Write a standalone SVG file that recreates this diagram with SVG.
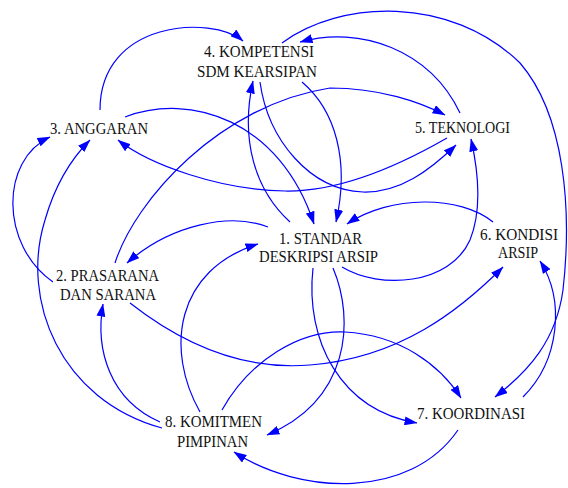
<svg xmlns="http://www.w3.org/2000/svg" width="568" height="488" viewBox="0 0 568 488">
<style>
.e{fill:none;stroke:#0000ff;stroke-width:1.2;marker-end:url(#ah)}
text{font-family:"Liberation Serif","Times New Roman",serif;font-size:17px;fill:#111;text-anchor:middle}
</style>
<defs>
<marker id="ah" markerUnits="userSpaceOnUse" viewBox="0 0 13 9" markerWidth="13" markerHeight="9" refX="12.5" refY="4.5" orient="auto">
<path d="M0,0 L13,4.5 L0,9 z" fill="#0000ff"/>
</marker>
</defs>
<rect width="568" height="488" fill="#fff"/>
<g id="connectors">
<path id="e3-4" class="e" d="M100,110 C100,20 212,15 243,41"/>
<path id="e3-1" class="e" d="M125,117 C190,92 280,120 314,224"/>
<path id="e5-3" class="e" d="M447,138 C400,165 340,192 285,191 C220,190 150,165 118,140"/>
<path id="e2-5" class="e" d="M115,263 C135,200 220,105 330,88 C380,88 420,102 445,115"/>
<path id="e5-4" class="e" d="M460,113 C430,50 360,25 300,42"/>
<path id="e4-1" class="e" d="M302,82 C335,110 350,160 336,222"/>
<path id="e4-5" class="e" d="M260,82 C268,140 310,190 363,192 C400,193 430,170 456,145"/>
<path id="e1-5" class="e" d="M342,267 C380,290 450,285 470,240 C482,210 478,170 471,139"/>
<path id="e4-7" class="e" d="M282,43 C340,0 450,-5 520,63 C565,115 572,210 563,290 C556,340 530,370 495,397"/>
<path id="e2-6" class="e" d="M130,303 C190,350 250,370 310,365 C400,358 460,310 503,267"/>
<path id="e6-1" class="e" d="M493,222 C460,195 390,195 347,224"/>
<path id="e1-2" class="e" d="M268,227 C230,212 170,225 127,263"/>
<path id="e8-1" class="e" d="M200,412 C165,350 175,270 258,244"/>
<path id="e2-3" class="e" d="M53,282 C0,245 0,160 50,137"/>
<path id="e8-3" class="e" d="M162,428 C60,400 20,300 45,220 C55,185 70,160 90,140"/>
<path id="e8-2" class="e" d="M160,422 C110,400 95,350 103,304"/>
<path id="e8-7" class="e" d="M222,410 C250,360 300,330 345,332 C400,335 440,365 461,398"/>
<path id="e7-8" class="e" d="M458,430 C410,500 300,495 234,452"/>
<path id="e1-8" class="e" d="M333,268 C355,320 350,400 267,435"/>
<path id="e1-7" class="e" d="M313,268 C305,340 340,410 417,423"/>
<path id="e1-4" class="e" d="M290,222 C255,190 240,140 253,81"/>
<path id="e7-6" class="e" d="M523,397 C560,360 565,300 540,261"/>
</g>
<g id="n1"><text x="320.5" y="243.5" textLength="83" lengthAdjust="spacingAndGlyphs">1. STANDAR</text><text x="318.5" y="262" textLength="119" lengthAdjust="spacingAndGlyphs">DESKRIPSI ARSIP</text></g>
<g id="n2"><text x="107.5" y="281" textLength="103" lengthAdjust="spacingAndGlyphs">2. PRASARANA</text><text x="108" y="300" textLength="96" lengthAdjust="spacingAndGlyphs">DAN SARANA</text></g>
<g id="n3"><text x="99" y="134" textLength="98" lengthAdjust="spacingAndGlyphs">3. ANGGARAN</text></g>
<g id="n4"><text x="259" y="57" textLength="110" lengthAdjust="spacingAndGlyphs">4. KOMPETENSI</text><text x="257" y="77" textLength="120" lengthAdjust="spacingAndGlyphs">SDM KEARSIPAN</text></g>
<g id="n5"><text x="462.5" y="133" textLength="95" lengthAdjust="spacingAndGlyphs">5. TEKNOLOGI</text></g>
<g id="n6"><text x="519" y="239.5" textLength="78" lengthAdjust="spacingAndGlyphs">6. KONDISI</text><text x="518" y="258" textLength="40" lengthAdjust="spacingAndGlyphs">ARSIP</text></g>
<g id="n7"><text x="471" y="419" textLength="108" lengthAdjust="spacingAndGlyphs">7. KOORDINASI</text></g>
<g id="n8"><text x="213.5" y="427" textLength="97" lengthAdjust="spacingAndGlyphs">8. KOMITMEN</text><text x="212.5" y="447" textLength="71" lengthAdjust="spacingAndGlyphs">PIMPINAN</text></g>
</svg>
